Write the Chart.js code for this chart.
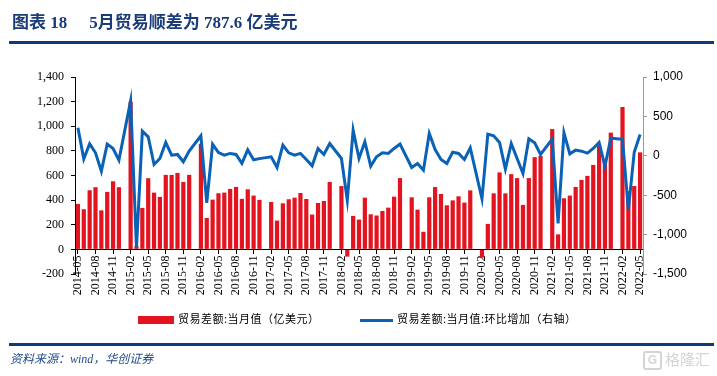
<!DOCTYPE html>
<html>
<head>
<meta charset="utf-8">
<script src="https://cdn.jsdelivr.net/npm/chart.js@4.4.0/dist/chart.umd.min.js"></script>
<style>
  body { margin: 0; background: #fff; }
  #wrap { position: relative; width: 717px; height: 376px; overflow: hidden; }
  #c { position: absolute; left: 0; top: 0; }
  .title { position: absolute; left: 12px; top: 8px; font: bold 17px "Liberation Serif", "Noto Sans CJK SC", serif; color: #1b3c78; white-space: pre; }
  .rule { position: absolute; left: 9px; width: 705px; height: 3px; background: #0d3b7a; }
  .legend { position: absolute; top: 310px; font: 11px "Noto Sans CJK SC", sans-serif; letter-spacing: 0.5px; color: #000; white-space: pre; }
  .legend i { display: inline-block; vertical-align: middle; margin-right: 4px; }
  .source { position: absolute; left: 10px; top: 349px; font: italic 12px "Liberation Serif", "Noto Sans CJK SC", serif; color: #1f4a8c; }
  .mark { position: absolute; left: 643px; top: 348px; font: 15px "Noto Sans CJK SC", sans-serif; color: #d4d4d4; }
  .mark b { display: inline-block; width: 15px; height: 15px; border: 2px solid #d4d4d4; border-radius: 3px; font: bold 12px "Liberation Sans", sans-serif; text-align: center; line-height: 15px; vertical-align: 1px; margin-right: 3px; }
</style>
</head>
<body>
<div id="wrap">
  <canvas id="c" width="717" height="376"></canvas>
  <div class="title">图表 18<span style="margin-left:22px">5月贸易顺差为 787.6 亿美元</span></div>
  <div class="rule" style="top:41px"></div>
  <div class="legend" style="left:138px"><i style="width:36px;height:8px;background:#e3141f"></i>贸易差额:当月值（亿美元）</div>
  <div class="legend" style="left:360px"><i style="width:33px;height:3px;background:#0a62b6"></i>贸易差额:当月值:环比增加（右轴）</div>
  <div class="rule" style="top:343px"></div>
  <div class="source">资料来源：wind，华创证券</div>
  <div class="mark"><b>G</b>格隆汇</div>
</div>
<script>
// months 2014-05 .. 2022-05
const months = [
  '2014-05', '2014-06', '2014-07', '2014-08', '2014-09', '2014-10', '2014-11', '2014-12',
  '2015-01', '2015-02', '2015-03', '2015-04', '2015-05', '2015-06', '2015-07', '2015-08', '2015-09', '2015-10', '2015-11', '2015-12',
  '2016-01', '2016-02', '2016-03', '2016-04', '2016-05', '2016-06', '2016-07', '2016-08', '2016-09', '2016-10', '2016-11', '2016-12',
  '2017-01', '2017-02', '2017-03', '2017-04', '2017-05', '2017-06', '2017-07', '2017-08', '2017-09', '2017-10', '2017-11', '2017-12',
  '2018-01', '2018-02', '2018-03', '2018-04', '2018-05', '2018-06', '2018-07', '2018-08', '2018-09', '2018-10', '2018-11', '2018-12',
  '2019-01', '2019-02', '2019-03', '2019-04', '2019-05', '2019-06', '2019-07', '2019-08', '2019-09', '2019-10', '2019-11', '2019-12',
  '2020-01', '2020-02', '2020-03', '2020-04', '2020-05', '2020-06', '2020-07', '2020-08', '2020-09', '2020-10', '2020-11', '2020-12',
  '2021-01', '2021-02', '2021-03', '2021-04', '2021-05', '2021-06', '2021-07', '2021-08', '2021-09', '2021-10', '2021-11', '2021-12',
  '2022-01', '2022-02', '2022-03', '2022-04', '2022-05'
];

// 贸易差额:当月值 (亿美元), January not published separately
const balance = [
  369, 326, 480, 505, 317, 467, 553, 505,
  null, 1200, 25, 337, 578, 461, 426, 605, 605, 621, 548, 605,
  null, 857, 255, 404, 456, 461, 491, 507, 410, 488, 437, 402,
  null, 385, 234, 374, 407, 420, 458, 409, 283, 377, 393, 547,
  null, 514, -59, 272, 242, 420, 285, 275, 312, 339, 428, 579,
  null, 423, 323, 143, 423, 506, 450, 358, 398, 431, 380, 479,
  null, -67, 207, 455, 625, 455, 611, 579, 361, 579, 749, 760,
  null, 977, 122, 415, 437, 507, 564, 597, 686, 845, 717, 948,
  null, 1156, 473, 515, 788
];

// 贸易差额:当月值:环比增加 (右轴)
const momChange = [
  355, -42, 152, 38, -195, 148, 93, -55,
  null, 698, -1168, 313, 241, -110, -34, 169, 8, 17, -76, 59,
  null, 254, -596, 148, 42, 8, 30, 17, -97, 76, -50, -36,
  null, -13, -148, 135, 38, 8, 30, -46, -127, 93, 17, 156,
  null, -34, -563, 326, -34, 178, -131, -13, 38, 30, 93, 148,
  null, -148, -97, -182, 283, 80, -46, -97, 46, 30, -46, 101,
  null, -546, 275, 254, 169, -169, 156, -34, -224, 215, 165, 17,
  null, 211, -859, 292, 25, 72, 59, 34, 93, 169, -132, 224,
  null, 209, -686, 45, 271
];

const RED = '#e3141f';
const BLUE = '#0a62b6';

const config = {
  data: {
    labels: months,
    datasets: [{
      type: 'line',
      label: '贸易差额:当月值:环比增加（右轴）',
      data: momChange,
      yAxisID: 'y1',
      borderColor: BLUE,
      borderWidth: 3,
      pointRadius: 0,
      spanGaps: true,
      tension: 0,
      order: 0
    }, {
      type: 'bar',
      label: '贸易差额:当月值（亿美元）',
      data: balance,
      yAxisID: 'y',
      backgroundColor: RED,
      barPercentage: 0.72,
      categoryPercentage: 1,
      order: 1
    }]
  },
  options: {
    responsive: false,
    animation: false,
    devicePixelRatio: 1,
    locale: 'en-US',
    layout: { padding: { left: 10, right: 0, top: 77, bottom: 102 } },
    plugins: {
      legend: { display: false },
      tooltip: { enabled: false }
    },
    scales: {
      x: {
        position: { y: 0 },
        offset: true,
        grid: { drawOnChartArea: false, offset: false, tickLength: 4, color: '#000' },
        border: { color: '#000' },
        ticks: {
          autoSkip: false,
          minRotation: 90,
          maxRotation: 90,
          padding: 2,
          color: '#000',
          font: { family: 'Liberation Serif', size: 12 },
          callback: function (v, i) {
            return i % 3 === 0 ? this.getLabelForValue(v) : null;
          }
        }
      },
      y: {
        position: 'left',
        min: -200,
        max: 1400,
        grid: { drawOnChartArea: false, tickLength: 4, color: '#000' },
        border: { color: '#000' },
        ticks: {
          stepSize: 200,
          padding: 7,
          color: '#000',
          font: { family: 'Liberation Serif', size: 12 }
        },
        afterFit(s) { s.width = 65; }
      },
      y1: {
        position: 'right',
        min: -1500,
        max: 1000,
        grid: { drawOnChartArea: false, tickLength: 4, color: '#999' },
        border: { color: '#999' },
        ticks: {
          stepSize: 500,
          padding: 6,
          color: '#000',
          font: { family: 'Liberation Sans', size: 12 }
        },
        afterFit(s) { s.width = 74; }
      }
    }
  }
};

const trade = new Chart(document.getElementById('c'), config);
</script>
</body>
</html>
